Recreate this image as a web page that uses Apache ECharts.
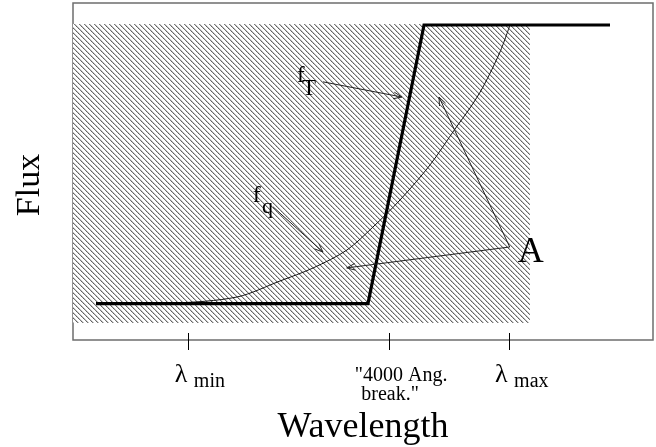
<!DOCTYPE html>
<html><head><meta charset="utf-8">
<script src="https://cdn.jsdelivr.net/npm/echarts@6/dist/echarts.min.js"></script>
<style>html,body{margin:0;padding:0;background:#fff}#c{width:656px;height:447px}</style>
</head><body><div id="c"></div>
<script>
// ---- data (arbitrary units: wavelength 0..100, flux 0..100) ----
const xRange = [0, 100];
const yRange = [0, 100];
const tickValues = [19.8, 54.5, 75.3];
const tickNames = ['min', '"4000 Ang.\nbreak."', 'max'];
// step template f_T
const stepX = [3.97, 50.86, 60.52, 92.59];
const stepY = [10.8, 10.8, 93.47, 93.47];
// smooth spectrum f_q
const fqX = [3.97, 17.24, 28.28, 35.69, 41.38, 47.24, 51.72, 56.38, 61.55, 65.86, 68.45, 70.69, 73.62, 75.34];
const fqY = [10.8, 10.98, 12.76, 17.51, 21.36, 26.71, 33.53, 41.54, 51.93, 62.61, 68.84, 75.07, 85.46, 93.47];
// hatched region A (x from, x to, y from, y to)
const hatchX = [0, 78.79];
const hatchY = [5.04, 93.77];
// annotation arrows: start x, start y, end x, end y
const arrowX0 = [43.1, 75.3, 75.3, 34.5];
const arrowY0 = [76.6, 27.6, 27.6, 39.5];
const arrowX1 = [56.7, 47.2, 63.1, 43.1];
const arrowY1 = [72.1, 21.4, 72.1, 26.1];
// annotation texts (left/baseline anchors)
const annoText = ['f', 'T', 'f', 'q', 'A'];
const annoX = [38.6, 39.5, 31.0, 32.6, 76.7];
const annoY = [76.0, 72.1, 40.4, 37.3, 22.2];
const annoSize = [23, 23, 24, 22, 36];

const SERIF = 'Liberation Serif';

// hatch pattern tile
function makeTile() {
  const s = 5;
  const c = document.createElement('canvas');
  c.width = s; c.height = s;
  const g = c.getContext('2d');
  g.fillStyle = '#fff'; g.fillRect(0, 0, s, s);
  for (let i = 0; i < s; i++) {
    g.fillStyle = (i % 2) ? '#5e5e5e' : '#7a7a7a'; g.fillRect(i, i, 1, 1);
    g.fillStyle = '#c4c4c4'; g.fillRect((i + 1) % s, i, 1, 1);
  }
  return c;
}
const tile = makeTile();

const chart = echarts.init(document.getElementById('c'), null, {renderer: 'canvas'});

const axisRich = {
  l: {fontFamily: SERIF, fontSize: 26, lineHeight: 26, padding: [9, 0, 4, 0], verticalAlign: 'bottom', color: '#000'},
  s: {fontFamily: SERIF, fontSize: 20, lineHeight: 20, verticalAlign: 'bottom', color: '#000'},
  a: {fontFamily: SERIF, fontSize: 20, lineHeight: 19, color: '#000', padding: [0, 0, 0, 0]},
  b: {fontFamily: SERIF, fontSize: 20, lineHeight: 19, color: '#000', padding: [0, 22, 0, 0]}
};

function fmtTick(v) {
  let i = -1, best = 1e9;
  tickValues.forEach((t, k) => { if (Math.abs(t - v) < best) { best = Math.abs(t - v); i = k; } });
  const n = tickNames[i];
  if (n.indexOf('\n') >= 0) {
    const parts = n.split('\n');
    return '{a|' + parts[0] + '}\n{b|' + parts[1] + '}';
  }
  return '{l|\u03bb }{s|' + n + '}';
}

const option = {
  animation: false,
  backgroundColor: '#fff',
  grid: {left: 73, right: 3, top: 3, bottom: 107, show: true, borderColor: '#6e6e6e', borderWidth: 1.5,
    backgroundColor: 'transparent', containLabel: false, outerBoundsMode: 'none'},
  xAxis: [{
    type: 'value', min: xRange[0], max: xRange[1], position: 'bottom',
    name: 'Wavelength', nameLocation: 'middle', nameGap: 70,
    nameTextStyle: {fontFamily: SERIF, fontSize: 36, color: '#000'},
    axisLine: {show: false},
    axisTick: {show: true, customValues: tickValues, inside: false, length: 10, lineStyle: {color: '#000', width: 1}},
    axisLabel: {show: true, customValues: tickValues, margin: 26, formatter: fmtTick, rich: axisRich, padding: [0, 0, 0, 24]},
    splitLine: {show: false}
  }, {
    type: 'value', min: xRange[0], max: xRange[1], position: 'bottom',
    axisLine: {show: false},
    axisTick: {show: true, customValues: tickValues, inside: true, length: 7, lineStyle: {color: '#000', width: 1}},
    axisLabel: {show: false},
    splitLine: {show: false}
  }],
  yAxis: {
    type: 'value', min: yRange[0], max: yRange[1],
    name: 'Flux', nameLocation: 'middle', nameGap: 26, nameRotate: 90,
    nameTextStyle: {fontFamily: SERIF, fontSize: 34, color: '#000', padding: [0, 27, 0, 0]},
    axisLine: {show: false}, axisTick: {show: false}, axisLabel: {show: false}, splitLine: {show: false}
  },
  series: [
    {
      type: 'custom', name: 'hatch', z: 1,
      data: [[hatchX[0], hatchY[0], hatchX[1], hatchY[1]]],
      renderItem: function (params, api) {
        const p0 = api.coord([api.value(0), api.value(3)]);
        const p1 = api.coord([api.value(2), api.value(1)]);
        return {type: 'rect', shape: {x: p0[0], y: p0[1], width: p1[0] - p0[0], height: p1[1] - p0[1]},
          style: {fill: {image: tile, repeat: 'repeat'}, stroke: null}};
      }
    },
    {
      type: 'line', name: 'fq', z: 3, symbol: 'none', smooth: 0.3,
      data: fqX.map((x, i) => [x, fqY[i]]),
      lineStyle: {color: '#111', width: 1}
    },
    {
      type: 'line', name: 'fT', z: 4, symbol: 'none',
      data: stepX.map((x, i) => [x, stepY[i]]),
      lineStyle: {color: '#000', width: 3.2, join: 'miter'}
    },
    {
      type: 'custom', name: 'arrows', z: 5,
      data: arrowX0.map((x, i) => [x, arrowY0[i], arrowX1[i], arrowY1[i]]),
      renderItem: function (params, api) {
        const a = api.coord([api.value(0), api.value(1)]);
        const b = api.coord([api.value(2), api.value(3)]);
        const ang = Math.atan2(b[1] - a[1], b[0] - a[0]);
        const L = 9, h = 0.38;
        const h1 = [b[0] - L * Math.cos(ang - h), b[1] - L * Math.sin(ang - h)];
        const h2 = [b[0] - L * Math.cos(ang + h), b[1] - L * Math.sin(ang + h)];
        return {type: 'group', children: [
          {type: 'line', shape: {x1: a[0], y1: a[1], x2: b[0], y2: b[1]}, style: {stroke: '#222', lineWidth: 1}},
          {type: 'polyline', shape: {points: [h1, b, h2]}, style: {stroke: '#222', lineWidth: 1, fill: null}}
        ]};
      }
    },
    {
      type: 'custom', name: 'labels', z: 6,
      data: annoX.map((x, i) => [x, annoY[i], i]),
      renderItem: function (params, api) {
        const i = api.value(2);
        const p = api.coord([api.value(0), api.value(1)]);
        const fs = annoSize[i];
        return {type: 'text', x: p[0], y: p[1] - 0.34 * fs,
          style: {text: annoText[i], fontFamily: SERIF, fontSize: fs, fill: '#000', align: 'left', verticalAlign: 'middle'}};
      }
    }
  ]
};
chart.setOption(option);
</script>
</body></html>
